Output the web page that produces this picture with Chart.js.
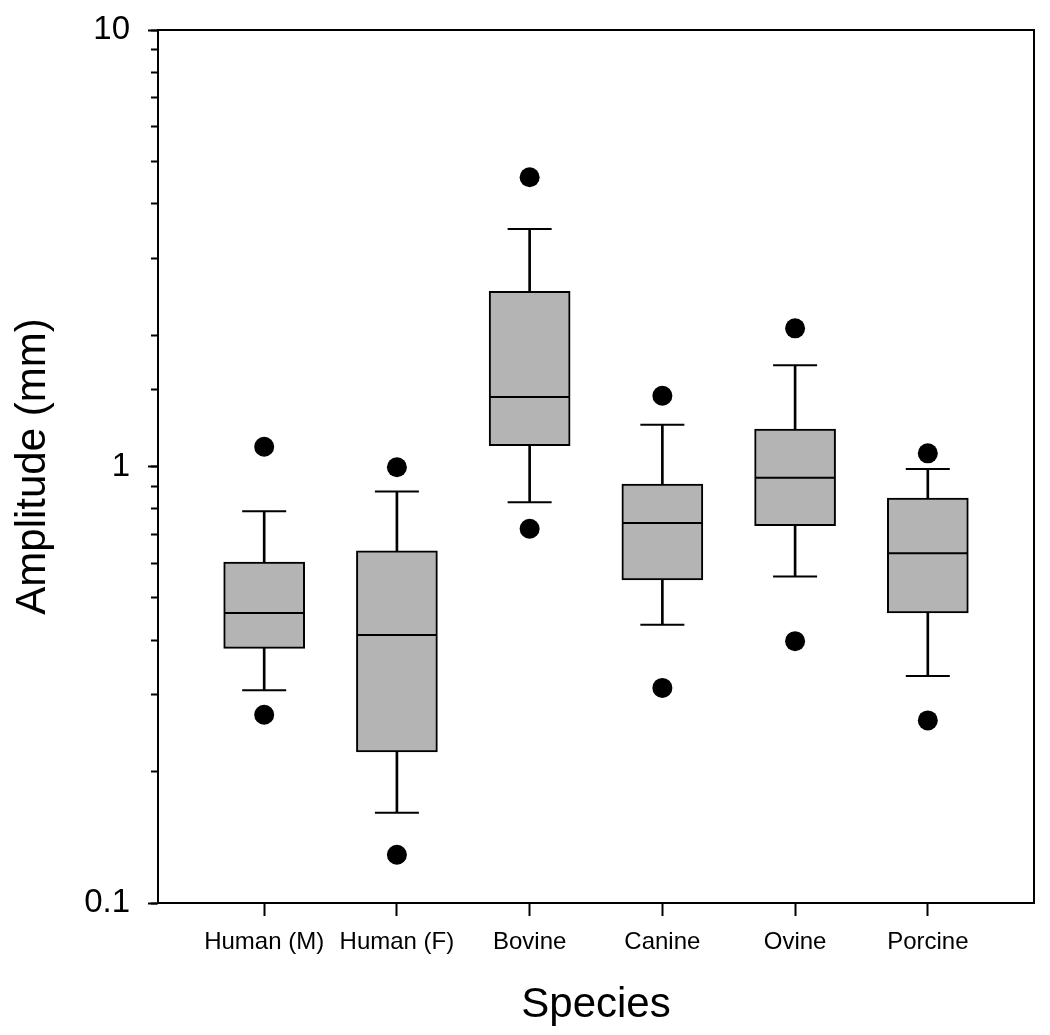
<!DOCTYPE html>
<html>
<head>
<meta charset="utf-8">
<script src="https://cdn.jsdelivr.net/npm/chart.js@4.4.1/dist/chart.umd.min.js"></script>
<style>
  html, body { margin: 0; padding: 0; background: #fff; }
  #wrap { width: 1050px; height: 1035px; }
</style>
</head>
<body>
<div id="wrap"><canvas id="boxChart"></canvas></div>
<script>
const species     = ['Human (M)', 'Human (F)', 'Bovine', 'Canine', 'Ovine', 'Porcine'];
const whiskerLow  = [0.307, 0.161, 0.828, 0.434, 0.560, 0.331];
const q1          = [0.383, 0.222, 1.116, 0.550, 0.732, 0.462];
const median      = [0.462, 0.411, 1.442, 0.742, 0.943, 0.633];
const q3          = [0.604, 0.641, 2.52,  0.912, 1.218, 0.847];
const whiskerHigh = [0.790, 0.876, 3.50,  1.246, 1.706, 0.987];
const outlierLow  = [0.270, 0.129, 0.720, 0.311, 0.398, 0.262];
const outlierHigh = [1.11,  0.996, 4.60,  1.452, 2.073, 1.072];
const yMajorTicks = [0.1, 1, 10];

const FONT = "'Liberation Sans', Arial, sans-serif";
const pos = species.map((s, i) => i + 1);

// box round the plot area
const frame = {
  id: 'frame',
  afterDraw(chart) {
    const { ctx, chartArea: a } = chart;
    ctx.save();
    ctx.strokeStyle = '#000';
    ctx.lineWidth = 2;
    ctx.strokeRect(a.left, a.top, a.right - a.left, a.bottom - a.top);
    ctx.restore();
  }
};

new Chart(document.getElementById('boxChart'), {
  type: 'bar',
  data: {
    datasets: [
      { type: 'scatter', order: 0, data: pos.map((x, i) => ({ x, y: outlierHigh[i] })).concat(pos.map((x, i) => ({ x, y: outlierLow[i] }))),
        pointStyle: 'circle', pointRadius: 10, backgroundColor: '#000', borderColor: '#000', borderWidth: 0 },
      { type: 'scatter', order: 1, data: pos.map((x, i) => ({ x, y: median[i] })),
        pointStyle: 'line', pointRadius: 40, borderColor: '#000', borderWidth: 2 },
      { type: 'scatter', order: 1, data: pos.map((x, i) => ({ x, y: whiskerHigh[i] })).concat(pos.map((x, i) => ({ x, y: whiskerLow[i] }))),
        pointStyle: 'line', pointRadius: 22, borderColor: '#000', borderWidth: 2 },
      { type: 'bar', order: 2, grouped: false, data: pos.map((x, i) => ({ x, y: [q1[i], q3[i]] })),
        barThickness: 81, backgroundColor: '#b4b4b4', borderColor: '#000', borderWidth: 2, borderSkipped: false },
      { type: 'bar', order: 3, grouped: false, data: pos.map((x, i) => ({ x, y: [whiskerLow[i], whiskerHigh[i]] })),
        barThickness: 2, backgroundColor: '#000', borderWidth: 0 }
    ]
  },
  options: {
    responsive: true,
    maintainAspectRatio: false,
    animation: false,
    layout: { autoPadding: false, padding: { top: 30, right: 16, left: 0, bottom: 0 } },
    plugins: { legend: { display: false }, tooltip: { enabled: false } },
    scales: {
      x: {
        type: 'linear', min: 0.2, max: 6.8, offset: false,
        afterBuildTicks: (s) => { s.ticks = pos.map(v => ({ value: v })); },
        afterFit: (s) => { s.height = 132; s.paddingLeft = 0; s.paddingRight = 0; },
        grid: { drawOnChartArea: false, offset: false, tickLength: 13, tickWidth: 2, tickColor: '#000' },
        border: { display: true, color: '#000', width: 2 },
        ticks: { color: '#000', font: { family: FONT, size: 24 }, padding: 12, maxRotation: 0,
                 callback: (v) => species[v - 1] },
        title: { display: true, text: 'Species', color: '#000', font: { family: FONT, size: 42 }, padding: { top: 4, bottom: 4 } }
      },
      y: {
        type: 'logarithmic', min: 0.1, max: 10, weight: 1,
        afterBuildTicks: (s) => { s.ticks = yMajorTicks.map(v => ({ value: v })); },
        afterFit: (s) => { s.width = 158; s.paddingTop = 0; s.paddingBottom = 0; },
        grid: { drawOnChartArea: false, tickLength: 10, tickWidth: 2, tickColor: '#000' },
        border: { display: true, color: '#000', width: 2 },
        ticks: { color: '#000', font: { family: FONT, size: 33 }, padding: 18, callback: (v) => String(v) },
        title: { display: true, text: 'Amplitude (mm)', color: '#000', font: { family: FONT, size: 42 }, padding: { top: 8, bottom: 8 } }
      },
      yMinor: {
        type: 'logarithmic', position: 'left', min: 0.1, max: 10, weight: 0,
        afterFit: (s) => { s.width = 0; s.paddingTop = 0; s.paddingBottom = 0; },
        grid: { drawOnChartArea: false, tickLength: 7, tickWidth: 2, tickColor: '#000' },
        border: { display: false },
        ticks: { display: false }
      }
    }
  },
  plugins: [frame]
});
</script>
</body>
</html>
